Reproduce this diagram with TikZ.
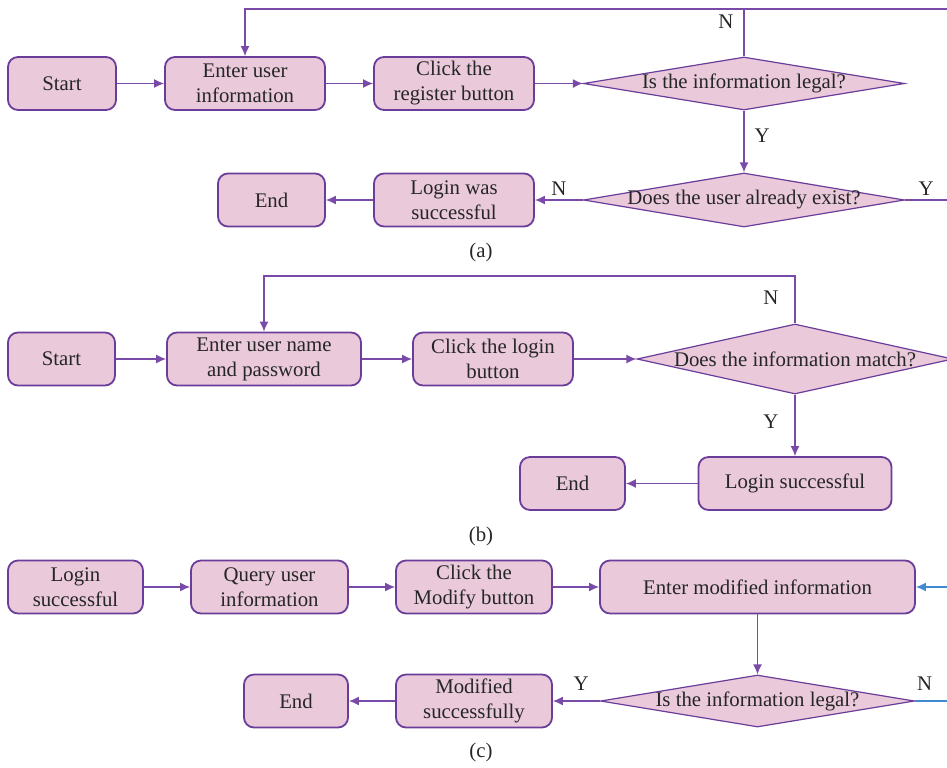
\documentclass[tikz,border=0pt]{standalone}
\usepackage{fontspec}
\setmainfont{Liberation Serif}
\usetikzlibrary{shapes.geometric,arrows.meta}
\definecolor{flowpink}{HTML}{E9C9DA}
\definecolor{flowpurple}{HTML}{6A3D9A}
\definecolor{flowline}{HTML}{7A4AA8}
\definecolor{flowblue}{HTML}{3F8AD0}
\tikzset{
  >={Latex[length=5pt,width=4.5pt]},
  box/.style={draw=flowpurple, fill=flowpink, line width=0.9pt, rounded corners=5pt,
    minimum height=26.5pt, inner sep=1pt, align=center, text=black!85},
  decision/.style={diamond, draw=flowpurple, fill=flowpink, line width=0.6pt,
    inner sep=0pt, aspect=2, text=black!85},
  link/.style={->, draw=flowline, line width=0.7pt},
  plainlink/.style={draw=flowline, line width=0.7pt},
  backlink/.style={draw=flowblue, line width=0.7pt},
  tag/.style={text=black!85, inner sep=2pt},
}
\begin{document}
\begin{tikzpicture}[x=0.5pt, y=-0.5pt, font=\fontsize{10.4}{12.5}\selectfont]
            \useasboundingbox (0,0) rectangle (947,767);
            % (a)
            \node[box, minimum width=54pt] (startA) at (62,83.5) {Start};
            \node[box, minimum width=80pt] (inputA) at (245,83.5) {Enter user\\information};
            \node[box, minimum width=80pt] (registerA) at (454,83.5) {Click the\\register button};
            \node[decision, minimum width=160.5pt, minimum height=26.5pt] (legalA) at (744,83.5) {\makebox[0pt]{Is the information legal?}};
            \node[decision, minimum width=160.5pt, minimum height=27pt] (existA) at (744,200) {\makebox[0pt]{Does the user already exist?}};
            \node[box, minimum width=80pt] (loginA) at (454,200) {Login was\\successful};
            \node[box, minimum width=53.5pt] (endA) at (271.5,200) {End};
            \node[tag] (capA) at (481,252) {(a)};
            \coordinate (loopA) at (744,9);
            \coordinate (edgeA) at (947,9);
            \coordinate (exitA) at (947,200);
            \draw[link] (startA) -- (inputA);
            \draw[link] (inputA) -- (registerA);
            \draw[link] (registerA) -- (legalA);
            \draw[link] (legalA.north) -- node[tag, left=3pt, pos=0.73] {N} (loopA) -| (inputA.north);
            \draw[plainlink] (loopA) -- (edgeA);
            \draw[link] (legalA) -- node[tag, right=3pt, pos=0.4] {Y} (existA);
            \draw[link] (existA.west) -- node[tag, above] {N} (loginA);
            \draw[plainlink] (existA.east) -- node[tag, above] {Y} (exitA);
            \draw[link] (loginA) -- (endA);
            % (b)
            \node[box, minimum width=53.5pt] (startB) at (61.5,359) {Start};
            \node[box, minimum width=97pt] (inputB) at (264,359) {Enter user name\\and password};
            \node[box, minimum width=80pt] (loginbtnB) at (493,359) {Click the login\\button};
            \node[decision, minimum width=158pt, minimum height=35pt] (matchB) at (795,359) {\makebox[0pt]{Does the information match?}};
            \node[box, minimum width=96.5pt] (okB) at (795,483.5) {Login successful};
            \node[box, minimum width=52.5pt] (endB) at (572.5,483.5) {End};
            \node[tag] (capB) at (481,536) {(b)};
            \coordinate (loopB) at (795,276);
            \draw[link] (startB) -- (inputB);
            \draw[link] (inputB) -- (loginbtnB);
            \draw[link] (loginbtnB) -- (matchB);
            \draw[link] (matchB.north) -- node[tag, left=6pt, pos=0.54] {N} (loopB) -| (inputB.north);
            \draw[link] (matchB) -- node[tag, left=6pt, pos=0.44] {Y} (okB);
            \draw[link] (okB) -- (endB);
            % (c)
            \node[box, minimum width=67.5pt] (loginC) at (75.5,587) {Login\\successful};
            \node[box, minimum width=78.5pt] (queryC) at (269.5,587) {Query user\\information};
            \node[box, minimum width=78pt] (modifyC) at (474,587) {Click the\\Modify button};
            \node[box, minimum width=157.5pt] (enterC) at (757.5,587) {Enter modified information};
            \node[decision, minimum width=157pt, minimum height=26pt] (legalC) at (757.5,701) {\makebox[0pt]{Is the information legal?}};
            \node[box, minimum width=78pt] (doneC) at (474,701) {Modified\\successfully};
            \node[box, minimum width=52pt] (endC) at (296,701) {End};
            \node[tag] (capC) at (481,752) {(c)};
            \coordinate (exitC) at (947,701);
            \coordinate (backC) at (947,587);
            \draw[link] (loginC) -- (queryC);
            \draw[link] (queryC) -- (modifyC);
            \draw[link] (modifyC) -- (enterC);
            \draw[link] (enterC) -- (legalC);
            \draw[link] (legalC.west) -- node[tag, above=3pt, pos=0.4] {Y} (doneC);
            \draw[backlink] (legalC.east) -- node[tag, above=3pt, pos=0.3] {N} (exitC);
            \draw[backlink, ->] (backC) -- (enterC);
            \draw[link] (doneC) -- (endC);
        \end{tikzpicture}
\end{document}
